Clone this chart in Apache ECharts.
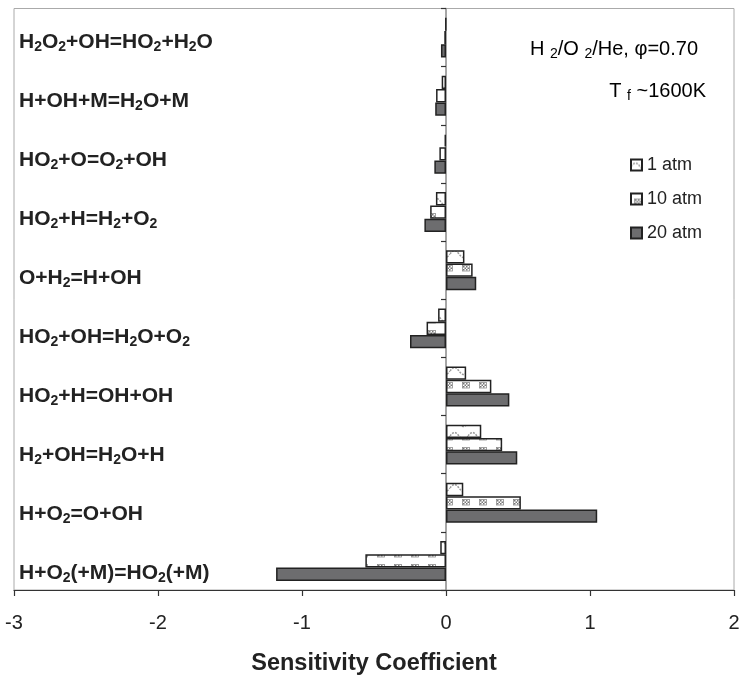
<!DOCTYPE html>
<html>
<head>
<meta charset="utf-8">
<script src="https://cdn.jsdelivr.net/npm/echarts@6/dist/echarts.min.js"></script>
<style>
  html, body { margin: 0; padding: 0; background: #fff; }
  #chart { width: 740px; height: 679px; }
</style>
</head>
<body>
<div id="chart"></div>
<script>
// ---- data (top to bottom) ----
var categories = [
  'H2O2+OH=HO2+H2O',
  'H+OH+M=H2O+M',
  'HO2+O=O2+OH',
  'HO2+H=H2+O2',
  'O+H2=H+OH',
  'HO2+OH=H2O+O2',
  'HO2+H=OH+OH',
  'H2+OH=H2O+H',
  'H+O2=O+OH',
  'H+O2(+M)=HO2(+M)'
];
var seriesNames = ['1 atm', '10 atm', '20 atm'];
var atm1  = [-0.003, -0.03, -0.01, -0.07, 0.128, -0.055, 0.14, 0.245, 0.12, -0.04];
var atm10 = [-0.012, -0.069, -0.046, -0.11, 0.185, -0.135, 0.315, 0.39, 0.52, -0.56];
var atm20 = [-0.035, -0.075, -0.081, -0.15, 0.21, -0.25, 0.44, 0.495, 1.05, -1.18];
var xTicks = [-3, -2, -1, 0, 1, 2];

var FONT = 'Liberation Sans, Arial, sans-serif';

// ---- fill patterns ----
function wavePattern() {
  var c = document.createElement('canvas');
  c.width = 18; c.height = 13;
  var g = c.getContext('2d');
  g.fillStyle = '#fff'; g.fillRect(0, 0, 18, 13);
  g.strokeStyle = '#9c9c9c'; g.lineWidth = 1.5;
  g.setLineDash([2, 1.2]);
  g.beginPath();
  for (var x = 0; x <= 18; x += 0.5) {
    var y = 7 - 3.5 * Math.sin((x / 18) * Math.PI * 2);
    if (x === 0) g.moveTo(x, y); else g.lineTo(x, y);
  }
  g.stroke();
  return c;
}
function checkPattern() {
  var c = document.createElement('canvas');
  c.width = 17; c.height = 13;
  var g = c.getContext('2d');
  g.fillStyle = '#fff'; g.fillRect(0, 0, 17, 13);
  g.fillStyle = '#777';
  var ox = 4, oy = 6;
  for (var i = 0; i < 4; i++) {
    for (var j = 0; j < 3; j++) {
      if ((i + j) % 2 === 0) g.fillRect(ox + i * 1.5, oy + j * 1.5, 1.5, 1.5);
    }
  }
  g.strokeStyle = '#8a8a8a'; g.lineWidth = 0.8;
  g.strokeRect(ox - 0.5, oy - 0.5, 7, 5.5);
  return c;
}

var chart = echarts.init(document.getElementById('chart'), null, { renderer: 'canvas' });

function fmtLabel(v) {
  return '{n|' + v.replace(/2/g, '}{s|2}{n|') + '}';
}

var barW = 13.3;
var border = { borderColor: '#222', borderWidth: 1.5 };

var option = {
  backgroundColor: '#fff',
  animation: false,
  grid: [
    {
      left: 14, right: 6, top: 8.5, bottom: 89,
      containLabel: false, outerBoundsMode: 'none',
      show: true, borderColor: '#aaa', borderWidth: 1, backgroundColor: 'transparent'
    },
    {
      left: 14, right: 6, top: 12.2, bottom: 76.5,
      containLabel: false, outerBoundsMode: 'none', show: false
    }
  ],
  legend: {
    data: seriesNames,
    orient: 'vertical',
    left: 630, top: 156,
    icon: 'rect',
    itemWidth: 11, itemHeight: 11, itemGap: 16,
    padding: 0,
    textStyle: { fontFamily: FONT, fontSize: 18, color: '#222' }
  },
  xAxis: [
    {
      type: 'value', gridIndex: 0,
      min: -3, max: 2, interval: 1,
      axisLine: { show: true, onZero: false, lineStyle: { color: '#333', width: 1.2 } },
      axisTick: { show: true, length: 6, lineStyle: { color: '#333', width: 1.2 } },
      splitLine: { show: false },
      axisLabel: {
        margin: 23, fontFamily: FONT, fontSize: 20, color: '#222',
        formatter: function (v) { return xTicks.indexOf(v) >= 0 ? String(v) : ''; }
      },
      name: 'Sensitivity Coefficient',
      nameLocation: 'middle',
      nameGap: 62,
      nameTextStyle: { fontFamily: FONT, fontSize: 23.5, fontWeight: 'bold', color: '#222' }
    },
    {
      type: 'value', gridIndex: 1, min: -3, max: 2,
      show: false
    }
  ],
  yAxis: [
    {
      type: 'category',
      gridIndex: 0,
      data: categories,
      inverse: true,
      position: 'left',
      axisLine: { show: true, onZero: true, lineStyle: { color: '#888', width: 1.5 } },
      axisTick: { show: true, length: 5, lineStyle: { color: '#333', width: 1.2 } },
      axisLabel: { show: false },
      splitLine: { show: false }
    },
    {
      type: 'category',
      gridIndex: 1,
      data: categories,
      inverse: true,
      position: 'left',
      axisLine: { show: false, onZero: false },
      axisTick: { show: false },
      splitLine: { show: false },
      axisLabel: {
        inside: true,
        margin: 5,
        formatter: fmtLabel,
        rich: {
          n: { fontFamily: FONT, fontSize: 21, fontWeight: 'bold', color: '#222', lineHeight: 24 },
          s: { fontFamily: FONT, fontSize: 14, fontWeight: 'bold', color: '#222', lineHeight: 14, verticalAlign: 'bottom' }
        }
      }
    }
  ],
  graphic: [
    {
      type: 'text', right: 42, top: 39,
      style: {
        text: '{a|H }{b|2}{a|/O }{b|2}{a|/He, φ=0.70}',
        rich: {
          a: { fontFamily: FONT, fontSize: 20, color: '#222', lineHeight: 24 },
          b: { fontFamily: FONT, fontSize: 14, color: '#222', lineHeight: 15, verticalAlign: 'bottom' }
        }
      }
    },
    {
      type: 'text', right: 34, top: 81,
      style: {
        text: '{a|T }{b|f}{a| ~1600K}',
        rich: {
          a: { fontFamily: FONT, fontSize: 20, color: '#222', lineHeight: 24 },
          b: { fontFamily: FONT, fontSize: 14, color: '#222', lineHeight: 15, verticalAlign: 'bottom' }
        }
      }
    }
  ],
  series: [
    {
      name: seriesNames[0], type: 'bar', xAxisIndex: 0, yAxisIndex: 0, data: atm1,
      barWidth: barW, barGap: '0%',
      itemStyle: Object.assign({ color: { image: wavePattern(), repeat: 'repeat' } }, border)
    },
    {
      name: seriesNames[1], type: 'bar', xAxisIndex: 0, yAxisIndex: 0, data: atm10,
      barWidth: barW, barGap: '0%',
      itemStyle: Object.assign({ color: { image: checkPattern(), repeat: 'repeat' } }, border)
    },
    {
      name: seriesNames[2], type: 'bar', xAxisIndex: 0, yAxisIndex: 0, data: atm20,
      barWidth: barW, barGap: '0%',
      itemStyle: Object.assign({ color: '#6d6d6f' }, border)
    }
  ]
};
chart.setOption(option);
</script>
</body>
</html>
